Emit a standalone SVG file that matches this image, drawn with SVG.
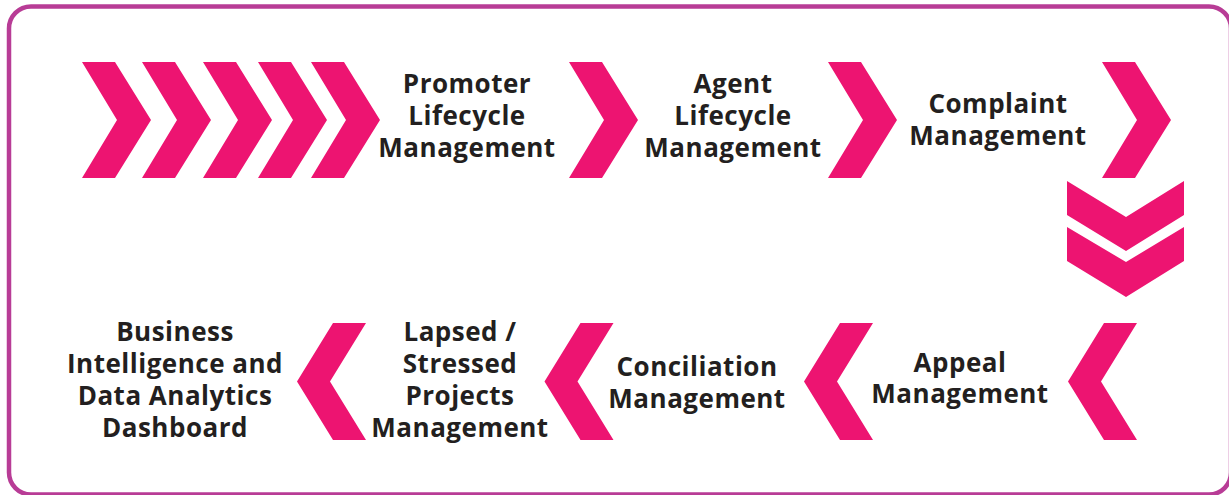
<svg xmlns="http://www.w3.org/2000/svg" width="1229" height="495" viewBox="0 0 1229 495">
<style>
.ch{fill:#ed1471;}
.t{font-family:"Open Sans","Liberation Sans",sans-serif;font-weight:700;font-size:26px;letter-spacing:0.5px;fill:#231f20;text-anchor:middle;}
</style>
<defs>
<polygon id="rc" points="0,62 33,62 69,120 33,178 0,178 35,120"/>
<polygon id="lc" points="-33,323 0,323 -36,381.5 0,440 -33,440 -69,381.5"/>
</defs>
<rect x="9" y="6.5" width="1222" height="488" rx="22" ry="22" fill="#fff" stroke="#b83c96" stroke-width="4.5"/>
<g id="connectors">
<use href="#rc" class="ch" x="82"/>
<use href="#rc" class="ch" x="142"/>
<use href="#rc" class="ch" x="203"/>
<use href="#rc" class="ch" x="258"/>
<use href="#rc" class="ch" x="311"/>
<use href="#rc" class="ch" x="569"/>
<use href="#rc" class="ch" x="828"/>
<use href="#rc" class="ch" x="1102"/>
<polygon class="ch" points="1067,181 1126,217 1184,181 1184,215 1126,251 1067,215"/>
<polygon class="ch" points="1067,227 1126,262 1184,227 1184,261 1126,297 1067,261"/>
<use href="#lc" class="ch" x="1137"/>
<use href="#lc" class="ch" x="873"/>
<use href="#lc" class="ch" x="613.5"/>
<use href="#lc" class="ch" x="366"/>
</g>
<g id="promoter"><text class="t" x="467" y="93">Promoter</text><text class="t" x="467" y="125">Lifecycle</text><text class="t" x="467" y="157">Management</text></g>
<g id="agent"><text class="t" x="733" y="93">Agent</text><text class="t" x="733" y="125">Lifecycle</text><text class="t" x="733" y="157">Management</text></g>
<g id="complaint"><text class="t" x="998" y="113">Complaint</text><text class="t" x="998" y="145">Management</text></g>
<g id="appeal"><text class="t" x="960" y="372">Appeal</text><text class="t" x="960" y="403">Management</text></g>
<g id="conciliation"><text class="t" x="697" y="376">Conciliation</text><text class="t" x="697" y="408">Management</text></g>
<g id="lapsed"><text class="t" x="460" y="341">Lapsed /</text><text class="t" x="460" y="373">Stressed</text><text class="t" x="460" y="405">Projects</text><text class="t" x="460" y="437">Management</text></g>
<g id="bi"><text class="t" x="175" y="341">Business</text><text class="t" x="175" y="373">Intelligence and</text><text class="t" x="175" y="405">Data Analytics</text><text class="t" x="175" y="437">Dashboard</text></g>
</svg>
